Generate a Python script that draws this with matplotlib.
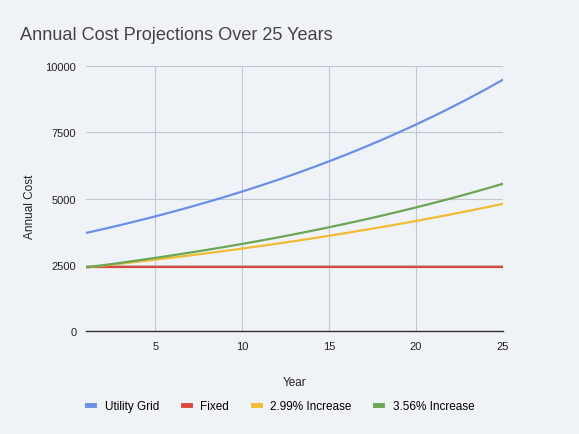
import matplotlib.pyplot as plt

years = list(range(1, 26))
utility_grid = [3700, 3848, 4002, 4162, 4328, 4502, 4682, 4869, 5064, 5266, 5477, 5696, 5924,
                6161, 6407, 6663, 6930, 7207, 7496, 7795, 8107, 8431, 8769, 9119, 9484]
fixed = [2400] * 25
increase_299 = [2400, 2470, 2543, 2617, 2694, 2773, 2854, 2938, 3024, 3112, 3204, 3297, 3394,
                3493, 3596, 3701, 3810, 3921, 4036, 4154, 4276, 4401, 4530, 4663, 4800]
increase_356 = [2400, 2485, 2574, 2666, 2760, 2859, 2960, 3066, 3175, 3288, 3405, 3526, 3652,
                3782, 3917, 4056, 4200, 4350, 4505, 4665, 4831, 5003, 5181, 5366, 5557]

series_names = ["Utility Grid", "Fixed", "2.99% Increase", "3.56% Increase"]
colors = ["#6a8fe6", "#d9483b", "#f1bc33", "#6aa656"]
x_ticks = [5, 10, 15, 20, 25]
y_ticks = [0, 2500, 5000, 7500, 10000]

bg = "#eff3f8"
plt.rcParams['font.family'] = ['Liberation Sans', 'DejaVu Sans']

fig = plt.figure(figsize=(5.79, 4.35), dpi=100, facecolor=bg)
ax = fig.add_axes([0.1485, 0.2368, 0.7202, 0.609], facecolor=bg)

for vals, name, c in zip([utility_grid, fixed, increase_299, increase_356], series_names, colors):
    ax.plot(years, vals, color=c, linewidth=1.6, label=name)

ax.set_xlim(1, 25)
ax.set_ylim(0, 10000)
ax.set_xticks(x_ticks)
ax.set_yticks(y_ticks)
ax.grid(True, color="#c4c7cf", linewidth=0.8)
ax.set_axisbelow(True)
for s in ["top", "right", "left"]:
    ax.spines[s].set_visible(False)
ax.spines["bottom"].set_color("#333333")
ax.spines["bottom"].set_linewidth(1.0)
ax.tick_params(length=0, labelsize=8, colors="#222222", pad=7)

ax.set_xlabel("Year", fontsize=8.5, color="#222222", labelpad=18)
fig.text(0.052, 0.525, "Annual Cost", fontsize=8.5, color="#222222",
         rotation=90, ha="center", va="center")

fig.text(0.035, 0.908, "Annual Cost Projections Over 25 Years", fontsize=13.1, color="#444444")

fig.legend(loc="center", bbox_to_anchor=(0.485, 0.064), ncol=4, frameon=False, fontsize=8.5,
           handlelength=0.6, handletextpad=0.9, columnspacing=2.0)
for line in fig.legends[0].get_lines():
    line.set_linewidth(3.5)

fig.savefig("out.png", dpi=100, facecolor=bg)
